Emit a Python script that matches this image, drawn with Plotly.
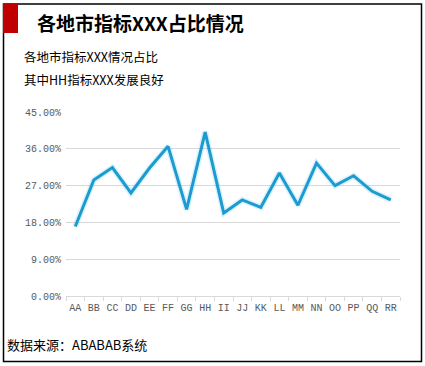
import plotly.graph_objects as go

categories = ["AA", "BB", "CC", "DD", "EE", "FF", "GG", "HH", "II", "JJ", "KK", "LL",
              "MM", "NN", "OO", "PP", "QQ", "RR"]
values = [0.170, 0.284, 0.314, 0.252, 0.313, 0.366, 0.212, 0.401, 0.203, 0.235, 0.217,
          0.301, 0.222, 0.325, 0.270, 0.294, 0.256, 0.235]
title_text = "各地市指标XXX占比情况"
subtitle_lines = ["各地市指标XXX情况占比", "其中HH指标XXX发展良好"]
source_text = "数据来源：ABABAB系统"

W, H = 425, 366
L, R, T, B = 66, 400, 112, 296  # plot area in pixels


def px(x):
    return (x - L) / (R - L)


def py(y):
    return (B - y) / (B - T)


fig = go.Figure()
fig.add_trace(go.Scatter(x=categories, y=values, mode="lines",
                         line=dict(color="rgba(60,185,235,0.18)", width=6),
                         hoverinfo="skip", showlegend=False))
fig.add_trace(go.Scatter(x=categories, y=values, mode="lines",
                         line=dict(color="#1C9BD1", width=3),
                         showlegend=False))

cjk = "Noto Sans CJK SC"
mono = "Liberation Mono"

fig.update_layout(
    width=W, height=H,
    margin=dict(l=L, r=W - R, t=T, b=H - B),
    paper_bgcolor="white", plot_bgcolor="white",
    xaxis=dict(type="category", range=[-0.5, len(categories) - 0.5],
               showline=True, linecolor="#D9D9D9", linewidth=1,
               ticks="outside", tickson="boundaries", ticklen=4, tickcolor="#D9D9D9",
               tickangle=0, showgrid=False, ticklabelstandoff=2,
               tickfont=dict(family=mono, size=10, color="#595959"),
               fixedrange=True),
    yaxis=dict(range=[0, 0.45], dtick=0.09, tick0=0, tickformat=".2%",
               showgrid=True, gridcolor="#D9D9D9", gridwidth=1, zeroline=False,
               showline=False, ticks="", ticklabelstandoff=4,
               tickfont=dict(family=mono, size=10, color="#595959"),
               fixedrange=True),
    shapes=[
        dict(type="rect", xref="paper", yref="paper",
             x0=px(3.5), x1=px(421.5), y0=py(4), y1=py(361.5),
             line=dict(color="black", width=1.5), fillcolor="rgba(0,0,0,0)"),
        dict(type="rect", xref="paper", yref="paper",
             x0=px(3), x1=px(18), y0=py(4), y1=py(33),
             line=dict(width=0), fillcolor="#C00000"),
    ],
    annotations=[
        dict(text="<b>" + title_text + "</b>", xref="paper", yref="paper",
             x=px(35), y=py(22), xanchor="left", yanchor="middle", showarrow=False,
             font=dict(family=cjk, size=19, color="black")),
        dict(text=subtitle_lines[0], xref="paper", yref="paper",
             x=px(22), y=py(57), xanchor="left", yanchor="middle", showarrow=False,
             font=dict(family=cjk, size=12.5, color="black")),
        dict(text=subtitle_lines[1], xref="paper", yref="paper",
             x=px(22), y=py(79), xanchor="left", yanchor="middle", showarrow=False,
             font=dict(family=cjk, size=12.5, color="black")),
        dict(text=source_text, xref="paper", yref="paper",
             x=px(5), y=py(344), xanchor="left", yanchor="middle", showarrow=False,
             font=dict(family=cjk, size=13, color="black")),
    ],
)

fig.write_html("out.html")
